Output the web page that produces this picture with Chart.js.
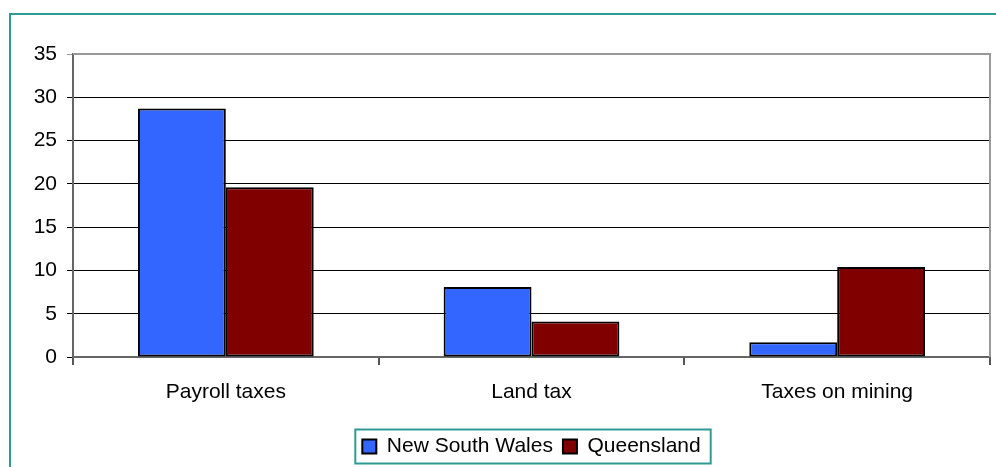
<!DOCTYPE html>
<html>
<head>
<meta charset="utf-8">
<script src="https://cdn.jsdelivr.net/npm/chart.js@4.4.1/dist/chart.umd.min.js"></script>
<style>
  html, body { margin: 0; padding: 0; background: #fff; overflow: hidden; }
  #frame {
    position: absolute; left: 9px; top: 13px; width: 1000px; height: 500px;
    border: 2px solid #2e9a96; box-sizing: border-box;
  }
  #wrap { position: absolute; left: 0; top: 0; width: 996px; height: 467px; }
</style>
</head>
<body>
<div id="frame"></div>
<div id="wrap"><canvas id="chart" width="996" height="467"></canvas></div>
<script>
// State tax revenue by category
const categories = ['Payroll taxes', 'Land tax', 'Taxes on mining'];
const nswValues = [28.7, 8.1, 1.7];
const qldValues = [19.6, 4.1, 10.4];
const yTicks = [0, 5, 10, 15, 20, 25, 30, 35];

const fontFamily = "'Liberation Sans', Arial, sans-serif";

// Gray border along the top and right of the plot area, plus a box round the legend
const framePlugin = {
    id: 'frameLines',
    afterDraw(chart) {
        const ctx = chart.ctx;
        const a = chart.chartArea;
        ctx.save();
        ctx.strokeStyle = '#999';
        ctx.lineWidth = 2;
        ctx.beginPath();
        ctx.moveTo(a.left, a.top);
        ctx.lineTo(a.right, a.top);
        ctx.lineTo(a.right, a.bottom);
        ctx.stroke();

        const boxes = chart.legend.legendHitBoxes;
        if (boxes && boxes.length) {
            const left = Math.min(...boxes.map(b => b.left)) - 7;
            const right = Math.max(...boxes.map(b => b.left + b.width)) + 10;
            const mid = (Math.min(...boxes.map(b => b.top)) + Math.max(...boxes.map(b => b.top + b.height))) / 2;
            ctx.strokeStyle = '#2e9a96';
            ctx.lineWidth = 2;
            ctx.strokeRect(left, mid - 17, right - left, 34);
        }
        ctx.restore();
    }
};

const ctx = document.getElementById('chart').getContext('2d');
new Chart(ctx, {
    type: 'bar',
    data: {
        labels: categories,
        datasets: [{
            label: 'New South Wales',
            data: nswValues,
            backgroundColor: '#3366ff',
            borderColor: '#000',
            borderWidth: 2,
            borderSkipped: false
        }, {
            label: 'Queensland',
            data: qldValues,
            backgroundColor: '#800000',
            borderColor: '#000',
            borderWidth: 2,
            borderSkipped: false
        }]
    },
    options: {
        responsive: false,
        animation: false,
        layout: {
            padding: { left: 0, top: 54, right: 6, bottom: 0 }
        },
        datasets: {
            bar: { categoryPercentage: 0.575, barPercentage: 1 }
        },
        plugins: {
            tooltip: { enabled: false },
            legend: {
                position: 'bottom',
                fullSize: false,
                labels: {
                    color: '#000',
                    boxWidth: 14,
                    boxHeight: 14,
                    padding: 10,
                    font: { family: fontFamily, size: 21 }
                }
            }
        },
        scales: {
            x: {
                grid: {
                    offset: true,
                    drawOnChartArea: false,
                    color: '#555',
                    lineWidth: 2,
                    tickLength: 8
                },
                border: { color: '#666', width: 2 },
                ticks: {
                    color: '#000',
                    padding: 15,
                    font: { family: fontFamily, size: 21 }
                },
                afterFit(scale) { scale.height = 69; }
            },
            y: {
                min: 0,
                max: 35,
                afterBuildTicks(scale) {
                    scale.ticks = yTicks.map(v => ({ value: v }));
                },
                grid: {
                    color: ctx => ctx.tick && ctx.tick.value === 35 ? '#999' : '#000',
                    lineWidth: 1,
                    tickLength: 6
                },
                border: { color: '#666', width: 2 },
                ticks: {
                    color: '#000',
                    padding: 10,
                    font: { family: fontFamily, size: 21 }
                },
                afterFit(scale) { scale.width = 73; }
            }
        }
    },
    plugins: [framePlugin]
});
</script>
</body>
</html>
